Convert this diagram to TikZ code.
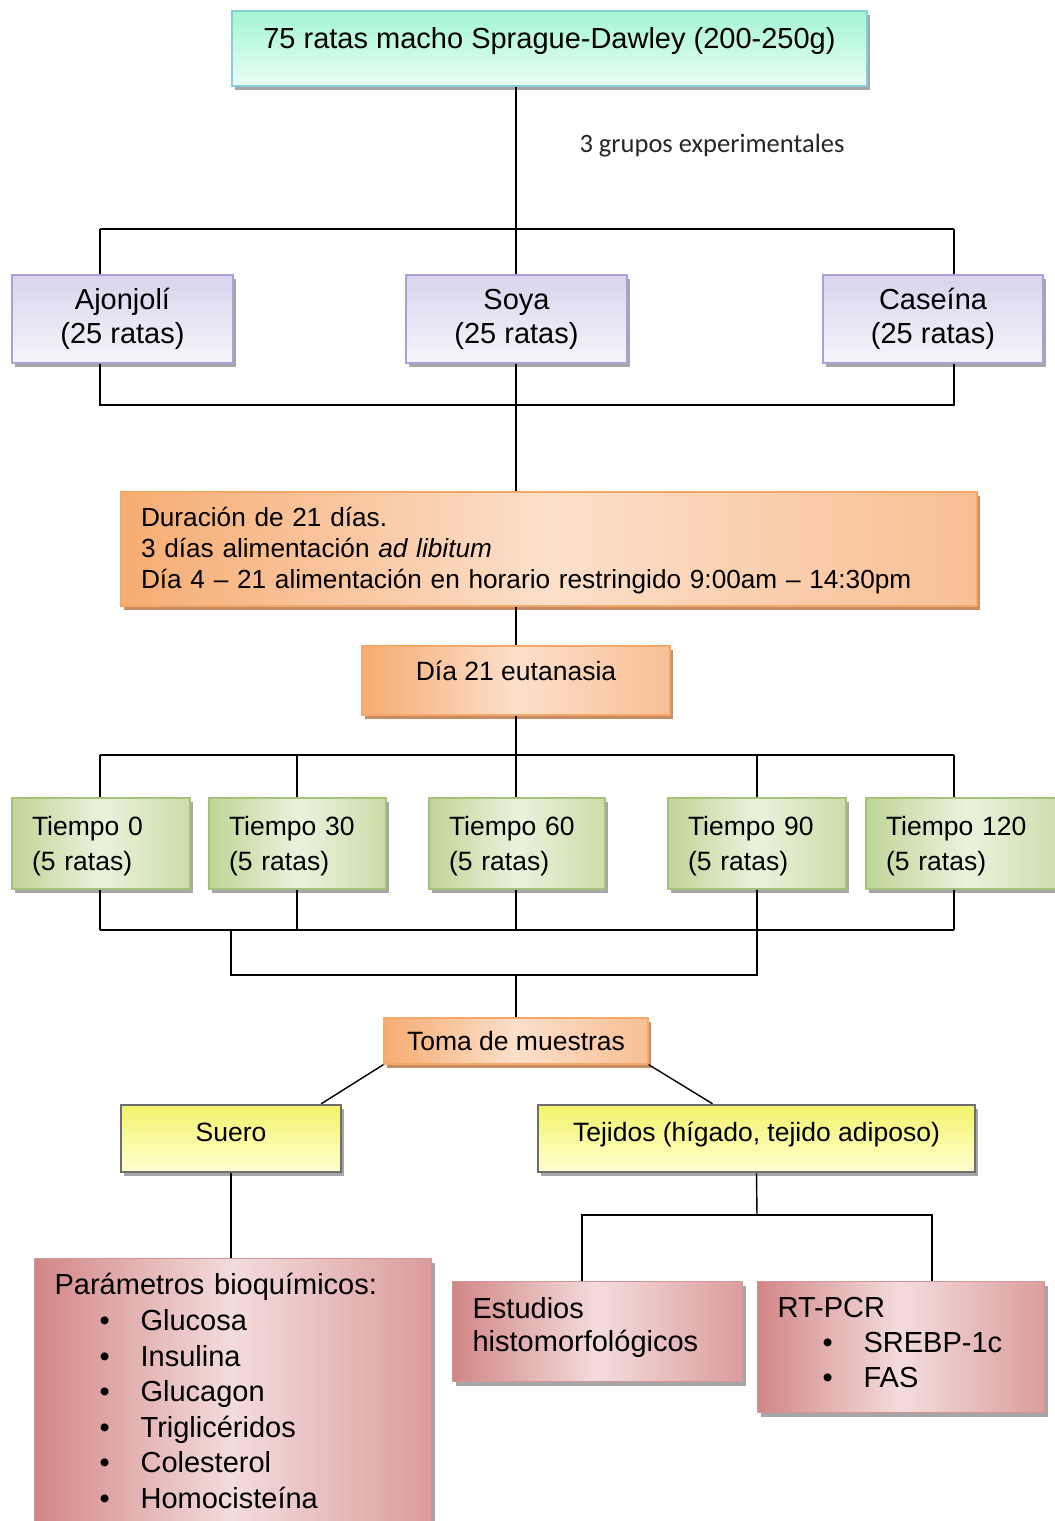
\documentclass[tikz,border=0pt]{standalone}
\usepackage{fontspec}
\setmainfont{Liberation Sans}
\newfontfamily\calibrifont{Carlito}
\usepackage{tikz}
\usetikzlibrary{shadows}

\definecolor{mintT}{HTML}{A4F5D3}
\definecolor{mintB}{HTML}{E9FFF5}
\definecolor{mintE}{HTML}{86CFDA}
\definecolor{lavT}{HTML}{D9D3EC}
\definecolor{lavB}{HTML}{F7F5FB}
\definecolor{lavE}{HTML}{AD9FD3}
\definecolor{orD}{HTML}{F6AC72}
\definecolor{orL}{HTML}{FCDFCA}
\definecolor{orM}{HTML}{F8BF94}
\definecolor{orE}{HTML}{F3A867}
\definecolor{orS}{HTML}{C88C64}
\definecolor{grD}{HTML}{BFD596}
\definecolor{grL}{HTML}{EBF2DD}
\definecolor{grM}{HTML}{CADDA8}
\definecolor{grE}{HTML}{A6C27A}
\definecolor{rdD}{HTML}{D28686}
\definecolor{rdL}{HTML}{F4DCDC}
\definecolor{rdM}{HTML}{DB9C9C}
\definecolor{rdE}{HTML}{D39595}
\definecolor{yeT}{HTML}{F3F36A}
\definecolor{yeB}{HTML}{FFFFD2}
\definecolor{yeE}{HTML}{6E6E6E}

\newcommand{\bigtxt}{\fontsize{29}{34}\selectfont}
\newcommand{\medtxt}{\fontsize{26.5}{31}\selectfont}
\newcommand{\bitem}[1]{\hspace*{45pt}\makebox[41pt][l]{\textbullet}#1}

\begin{document}
\begin{tikzpicture}[x=1pt, y=-1pt, line width=1.4pt]
	\tikzstyle{box} = [rectangle, draw, inner sep=0pt, line width=1.2pt, text=black]
	\tikzstyle{topbox} = [box, draw=mintE, top color=mintT, bottom color=mintB, font=\bigtxt,
	  drop shadow={shadow xshift=3pt, shadow yshift=-4pt, fill=black!35, opacity=1}]
	\tikzstyle{groupbox} = [box, draw=lavE, top color=lavT, bottom color=lavB, font=\bigtxt, align=center,
	  drop shadow={shadow xshift=3pt, shadow yshift=-4pt, fill=black!35, opacity=1}]
	\tikzstyle{orbox} = [box, draw=orE, left color=orD, right color=orM, middle color=orL, font=\medtxt,
	  drop shadow={shadow xshift=3pt, shadow yshift=-4pt, fill=orS, opacity=1}]
	\tikzstyle{timebox} = [box, draw=grE, left color=grD, right color=grM, middle color=grL,
	  font=\fontsize{26.5}{35}\selectfont, minimum height=91pt, inner xsep=20pt, align=left, text height=25pt,
	  drop shadow={shadow xshift=3pt, shadow yshift=-4pt, fill=black!35, opacity=1}]
	\tikzstyle{samplebox} = [box, draw=yeE, line width=2.5pt, top color=yeT, bottom color=yeB, font=\medtxt,
	  minimum height=67pt, text height=19pt, text depth=13pt,
	  drop shadow={shadow xshift=3pt, shadow yshift=-4pt, fill=black!35, opacity=1}]
	\tikzstyle{resbox} = [box, draw=rdE, left color=rdD, right color=rdM, middle color=rdL, font=\bigtxt,
	  anchor=north west, inner xsep=20pt, inner ysep=16pt, align=left,
	  drop shadow={shadow xshift=3pt, shadow yshift=-4pt, fill=black!35, opacity=1}]

	\clip (0,0) rectangle (1055,1521);
	\fill[white] (0,0) rectangle (1055,1521);

	% rats and groups
	\node[topbox, minimum width=635pt, minimum height=75pt, text height=20pt, text depth=20pt]
	  (top) at (549.5,48.5) {75 ratas macho Sprague-Dawley (200-250g)};
	\node[font=\calibrifont\fontsize{26.5}{30}\selectfont, text=black!85] (ngroups) at (712,146) {3 grupos experimentales};
	\node[groupbox, minimum width=221pt, minimum height=88pt] (ajo) at (122.5,319) {Ajonjolí\\(25 ratas)};
	\node[groupbox, minimum width=221pt, minimum height=88pt] (soya) at (516.5,319) {Soya\\(25 ratas)};
	\node[groupbox, minimum width=220pt, minimum height=88pt] (cas) at (933,319) {Caseína\\(25 ratas)};

	% feeding and euthanasia
	\node[orbox, minimum width=856pt, minimum height=114pt, inner xsep=20pt, text width=816pt, align=left,
	  font=\fontsize{26.2}{31}\selectfont, text height=23pt]
	  (dur) at (549,549) {Duración de 21 días.\\3 días alimentación \textit{ad libitum}\\Día 4 -- 21 alimentación en horario restringido 9:00am -- 14:30pm};
	\node[orbox, minimum width=308pt, minimum height=69pt, text height=20pt, text depth=20pt]
	  (euta) at (516,680.5) {Día 21 eutanasia};

	% time points
	\node[timebox, minimum width=178pt, text width=138pt] (t0) at (101,843.5) {Tiempo 0\\(5 ratas)};
	\node[timebox, minimum width=177pt, text width=137pt] (t30) at (297.5,843.5) {Tiempo 30\\(5 ratas)};
	\node[timebox, minimum width=176pt, text width=136pt] (t60) at (517,843.5) {Tiempo 60\\(5 ratas)};
	\node[timebox, minimum width=178pt, text width=138pt] (t90) at (757,843.5) {Tiempo 90\\(5 ratas)};
	\node[timebox, minimum width=200pt, text width=160pt] (t120) at (966,843.5) {Tiempo 120\\(5 ratas)};

	% samples
	\node[orbox, minimum width=264pt, minimum height=46pt, text height=19pt, text depth=0pt]
	  (toma) at (516,1041) {Toma de muestras};
	\node[samplebox, minimum width=220pt] (suero) at (231,1138.5) {Suero};
	\node[samplebox, minimum width=437pt] (tejidos) at (756.5,1138.5) {Tejidos (hígado, tejido adiposo)};

	% results
	\node[resbox, text width=357pt, inner ysep=15pt, text depth=260pt, font=\fontsize{29}{35.6}\selectfont]
	  (bioq) at (34,1258) {Parámetros bioquímicos:\\\bitem{Glucosa}\\\bitem{Insulina}\\\bitem{Glucagon}\\\bitem{Triglicéridos}\\\bitem{Colesterol}\\\bitem{Homocisteína}};
	\node[resbox, text width=250pt, text depth=47pt, font=\fontsize{29}{33}\selectfont]
	  (histo) at (452,1281) {Estudios\\histomorfológicos};
	\node[resbox, text width=247pt, text depth=79pt, font=\fontsize{29}{35}\selectfont]
	  (rtpcr) at (757,1281) {RT-PCR\\\bitem{SREBP-1c}\\\bitem{FAS}};

	% bus points
	\coordinate (gsplit) at (516,229);
	\coordinate (gL) at (100,229);
	\coordinate (gR) at (954,229);
	\coordinate (jL) at (100,405);
	\coordinate (jR) at (954,405);
	\coordinate (tsplit) at (516,755);
	\coordinate (bt0) at (100,755);
	\coordinate (bt30) at (297,755);
	\coordinate (bt60) at (516,755);
	\coordinate (bt90) at (757,755);
	\coordinate (bt120) at (954,755);
	\coordinate (ct0) at (100,930);
	\coordinate (ct30) at (297,930);
	\coordinate (ct60) at (516,930);
	\coordinate (ct90) at (757,930);
	\coordinate (ct120) at (954,930);
	\coordinate (kL) at (231,975);
	\coordinate (kR) at (757,975);
	\coordinate (tsp) at (757,1215);
	\coordinate (hL) at (582,1215);
	\coordinate (hR) at (932,1215);

	% connectors
	\draw (gsplit |- top.south) -- (gsplit);
	\draw (gL) -- (gR);
	\draw (gL) -- (gL |- ajo.north);
	\draw (gsplit) -- (gsplit |- soya.north);
	\draw (gR) -- (gR |- cas.north);
	\draw (jL |- ajo.south) -- (jL) -- (jR) -- (jR |- cas.south);
	\draw (gsplit |- soya.south) -- (gsplit |- dur.north);
	\draw (euta.north |- dur.south) -- (euta.north);
	\draw (euta.south) -- (tsplit);
	\draw (bt0) -- (bt120);
	\foreach \n in {t0, t30, t60, t90, t120}
	  \draw (b\n) -- (b\n |- \n.north) (c\n |- \n.south) -- (c\n);
	\draw (ct0) -- (ct120);
	\draw (kL |- ct0) -- (kL) -- (kR) -- (kR |- ct0);
	\draw (toma.north |- kL) -- (toma.north);
	\draw (toma.south west) -- ([xshift=-21pt]suero.north east);
	\draw (toma.south east) -- ([xshift=-44pt]tejidos.north);
	\draw (suero.south) -- (suero.south |- bioq.north);
	\draw (tejidos.south) -- (tsp);
	\draw (hL |- histo.north) -- (hL) -- (hR) -- (hR |- rtpcr.north);
\end{tikzpicture}
\end{document}
